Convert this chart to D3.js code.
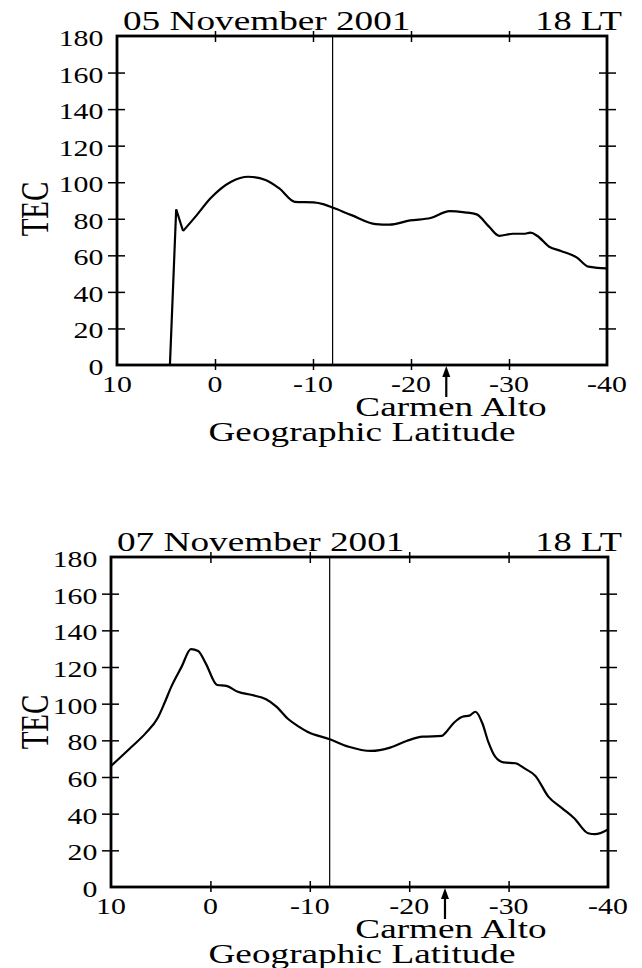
<!DOCTYPE html>
<html>
<head>
<meta charset="utf-8">
<script src="https://cdn.jsdelivr.net/npm/d3@7"></script>
<style>
  html, body { margin: 0; padding: 0; background: #fff; }
  svg { display: block; }
  text { font-family: "Liberation Serif", "Times New Roman", serif; fill: #000; }
</style>
</head>
<body>
<svg id="chart" width="642" height="968"></svg>
<script>
// ---------------- data ----------------
const yTicks = [0, 20, 40, 60, 80, 100, 120, 140, 160, 180];
const xTicks = [10, 0, -10, -20, -30, -40];
const xTickLabels = ["10", "0", "-10", "-20", "-30", "-40"];

const titles = ["05 November 2001", "07 November 2001"];
const timeLabel = "18 LT";
const refLat = -12;          // vertical reference line
const carmenAltoLat = -23.6; // arrow position

const lat05 = [10, 4.6, 3.96, 3.26, 1.86, 0.46, -1.65, -3.4, -5.16, -6.56, -8.14, -10.07, -11.12, -12.07, -13.93, -16.4, -17.8, -19.9, -22, -23.93, -25.5, -26.7, -27.96, -29, -30.4, -31.5, -32.2, -32.9, -34.1, -35.3, -36.9, -38.1, -39.9, -40];
const tec05 = [0, 0, 85.2, 73.3, 82, 91.2, 100.3, 103, 101.2, 96.6, 89.3, 89, 87.9, 86, 82, 77.1, 76.8, 79.1, 80.4, 84.2, 83.5, 82.4, 75.7, 70.7, 71.8, 71.8, 72.4, 70.6, 64.7, 62.4, 58.9, 53.8, 52.9, 52.9];

const lat07 = [10, 7.92, 6.53, 5.32, 4.63, 3.93, 2.89, 1.96, 1.23, 0.47, -0.68, -1.61, -2.76, -4.2, -5.6, -6.64, -7.85, -8.89, -9.76, -12.01, -13.92, -16.17, -18.08, -19.8, -21.37, -23.28, -23.6, -24.5, -25.35, -26.05, -26.67, -27.36, -27.95, -28.65, -29.5, -30.7, -31.6, -32.7, -34, -35.4, -36.6, -38, -38.7, -40];
const tec07 = [66, 76.5, 83.8, 92, 100.2, 109.3, 120.2, 129.8, 128.7, 122, 110.2, 109.7, 106.5, 104.7, 102.4, 98.4, 91.5, 87.5, 84.7, 80.6, 76.5, 74.2, 76, 79.8, 82, 82.4, 83.8, 89.6, 92.9, 93.5, 95.6, 89.3, 79.3, 71.1, 68, 67.5, 64.7, 60.6, 49.3, 42.9, 37.5, 29.3, 28.8, 31.4];

// ---------------- layout ----------------
const panels = [
  { left: 117, right: 607, top: 36, bottom: 365, lat: lat05, tec: tec05, title: titles[0], tecY: 209, sharp: 4 },
  { left: 111, right: 608, top: 557, bottom: 887, lat: lat07, tec: tec07, title: titles[1], tecY: 722, sharp: 0 }
];

const svg = d3.select("#chart");
svg.append("rect").attr("width", 642).attr("height", 968).attr("fill", "#fff");

function stretchedText(g, x, y, str, size, anchor, sx) {
  return g.append("text")
    .attr("transform", `translate(${x},${y}) scale(${sx},1)`)
    .attr("font-size", size)
    .attr("text-anchor", anchor)
    .text(str);
}

panels.forEach(p => {
  const g = svg.append("g");
  const x = d3.scaleLinear().domain([10, -40]).range([p.left, p.right]);
  const y = d3.scaleLinear().domain([0, 180]).range([p.bottom, p.top]);

  const innerY = yTicks.filter(v => v > 0 && v < 180);
  const innerX = xTicks.filter(v => v < 10 && v > -40);

  const mkAxis = (axisFn, scale, vals, size) => axisFn(scale).tickValues(vals).tickSize(size).tickFormat("");
  [[d3.axisLeft, p.left, 9], [d3.axisRight, p.left, 8], [d3.axisLeft, p.right, 8], [d3.axisRight, p.right, 9]].forEach(([fn, px, s]) => {
    g.append("g").attr("transform", `translate(${px},0)`).call(mkAxis(fn, y, innerY, s))
      .call(a => a.select(".domain").remove())
      .selectAll("line").attr("stroke", "#000").attr("stroke-width", 1.5);
  });
  [[d3.axisBottom, p.bottom, 5], [d3.axisTop, p.bottom, 6], [d3.axisBottom, p.top, 6], [d3.axisTop, p.top, 5]].forEach(([fn, py, s]) => {
    g.append("g").attr("transform", `translate(0,${py})`).call(mkAxis(fn, x, innerX, s))
      .call(a => a.select(".domain").remove())
      .selectAll("line").attr("stroke", "#000").attr("stroke-width", 1.5);
  });

  // reference vertical line
  g.append("line")
    .attr("x1", x(refLat)).attr("x2", x(refLat))
    .attr("y1", y(180)).attr("y2", y(0))
    .attr("stroke", "#000").attr("stroke-width", 1.2);

  // data curve
  const clipId = "clip" + p.top;
  svg.append("clipPath").attr("id", clipId).append("rect")
    .attr("x", p.left).attr("y", p.top).attr("width", p.right - p.left).attr("height", p.bottom - p.top);
  const pts = p.lat.map((d, i) => [d, p.tec[i]]);
  const lineLin = d3.line().x(d => x(d[0])).y(d => y(d[1]));
  const lineSmooth = d3.line().x(d => x(d[0])).y(d => y(d[1])).curve(d3.curveMonotoneX);
  if (p.sharp > 0) {
    g.append("path").datum(pts.slice(0, p.sharp))
      .attr("d", lineLin)
      .attr("fill", "none").attr("stroke", "#000").attr("stroke-width", 2.2)
      .attr("stroke-linejoin", "miter").attr("clip-path", `url(#${clipId})`);
  }
  g.append("path").datum(pts.slice(Math.max(0, p.sharp - 1)))
    .attr("d", lineSmooth)
    .attr("fill", "none").attr("stroke", "#000").attr("stroke-width", 2.2)
    .attr("stroke-linejoin", "round").attr("clip-path", `url(#${clipId})`);

  // frame
  g.append("rect")
    .attr("x", p.left).attr("y", p.top)
    .attr("width", p.right - p.left).attr("height", p.bottom - p.top)
    .attr("fill", "none").attr("stroke", "#000").attr("stroke-width", 2.8);

  // y tick labels
  yTicks.forEach(v => {
    stretchedText(g, p.left - 13.5, y(v) + 10, String(v), 23, "end", 1.3);
  });
  // x tick labels
  xTicks.forEach((v, i) => {
    stretchedText(g, x(v), p.bottom + 27, xTickLabels[i], 23, "middle", 1.3);
  });

  // titles
  stretchedText(g, p.left + 6, p.top - 6, p.title, 28, "start", 1.33);
  stretchedText(g, 622, p.top - 6, timeLabel, 28, "end", 1.3);

  // y axis title
  g.append("text")
    .attr("transform", `translate(48,${p.tecY}) scale(1.4,1) rotate(-90)`)
    .attr("font-size", 29).attr("text-anchor", "middle")
    .text("TEC");

  // Carmen Alto arrow
  const ax = x(carmenAltoLat);
  g.append("line")
    .attr("x1", ax).attr("x2", ax)
    .attr("y1", p.bottom + 32).attr("y2", p.bottom + 10)
    .attr("stroke", "#000").attr("stroke-width", 2.2);
  g.append("path")
    .attr("d", `M${ax},${p.bottom + 1} L${ax - 4},${p.bottom + 12} L${ax + 4},${p.bottom + 12} Z`)
    .attr("fill", "#000");
  stretchedText(g, 451, p.bottom + 51, "Carmen Alto", 28, "middle", 1.33);
  stretchedText(g, 362, p.bottom + 76, "Geographic Latitude", 28, "middle", 1.33);
});
</script>
</body>
</html>
